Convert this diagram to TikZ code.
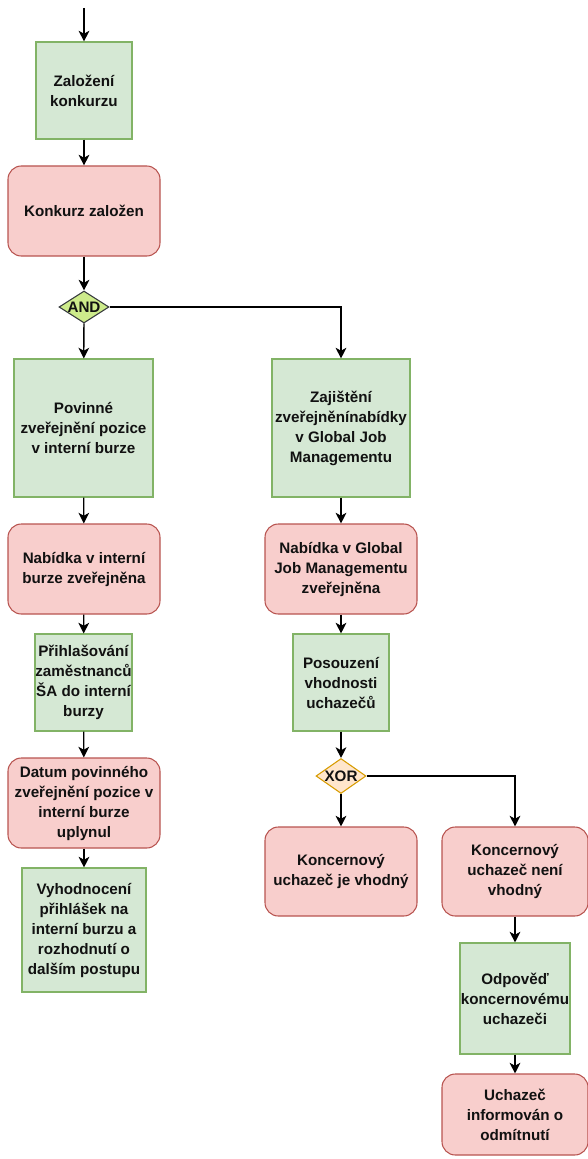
\documentclass[tikz,border=0pt]{standalone}
\usepackage{fontspec}
\setmainfont{Liberation Sans}
\usetikzlibrary{arrows.meta,shapes.geometric}
\definecolor{gfill}{HTML}{D5E8D4}
\definecolor{gline}{HTML}{82B366}
\definecolor{rfill}{HTML}{F8CECC}
\definecolor{rline}{HTML}{B85450}
\definecolor{afill}{HTML}{CDEB8B}
\definecolor{aline}{HTML}{36393D}
\definecolor{xfill}{HTML}{FFE6CC}
\definecolor{xline}{HTML}{D79B00}
\definecolor{txt}{HTML}{111111}
\begin{document}
\begin{tikzpicture}[x=0.75pt,y=-0.75pt,
  every node/.style={text=txt, font=\fontsize{11.4}{15}\selectfont\bfseries, align=center, inner sep=0pt},
  gbox/.style n args={2}{draw=gline, fill=gfill, line width=0.8pt, minimum width=#1*0.75pt, minimum height=#2*0.75pt},
  rbox/.style n args={2}{draw=rline, fill=rfill, line width=0.8pt, rounded corners=10pt, minimum width=#1*0.75pt, minimum height=#2*0.75pt},
  andgate/.style={diamond, draw=aline, fill=afill, line width=0.8pt, minimum width=50*0.75pt, minimum height=32*0.75pt},
  xorgate/.style={diamond, draw=xline, fill=xfill, line width=0.8pt, minimum width=50*0.75pt, minimum height=35*0.75pt},
  conn/.style={draw=black, line width=1pt, -{Stealth[length=8pt,width=8pt,inset=2.2pt]}}
]
\useasboundingbox (0,0) rectangle (588,1159);
\coordinate (start) at (84,8);
% left column
\node[gbox={96}{97}] (z) at (84,90.5) {Založení\\konkurzu};
\node[rbox={152}{90}] (kz) at (84,211) {Konkurz založen};
\node[andgate, label={[text=txt]center:AND}] (and) at (84,307) {};
\node[gbox={139}{138}] (pov) at (83.5,428) {Povinné\\zveřejnění pozice\\v interní burze};
\node[rbox={152}{90}] (nib) at (84,569) {Nabídka v interní\\burze zveřejněna};
\node[gbox={97}{97}] (pri) at (83.5,682.5) {Přihlašování\\zaměstnanců\\ŠA do interní\\burzy};
\node[rbox={152}{90}] (dat) at (84,803) {Datum povinného\\zveřejnění pozice v\\interní burze\\uplynul};
\node[gbox={124}{124}] (vyh) at (84,930) {Vyhodnocení\\přihlášek na\\interní burzu a\\rozhodnutí o\\dalším postupu};
% right column
\node[gbox={138}{138}] (zaj) at (341,428) {Zajištění\\zveřejněnínabídky\\v Global Job\\Managementu};
\node[rbox={152}{90}] (nig) at (341,569) {Nabídka v Global\\Job Managementu\\zveřejněna};
\node[gbox={96}{97}] (pos) at (341,682.5) {Posouzení\\vhodnosti\\uchazečů};
\node[xorgate, label={[text=txt]center:XOR}] (xor) at (341,776) {};
\node[rbox={152}{89}] (kv) at (341,871.5) {Koncernový\\uchazeč je vhodný};
\node[rbox={146}{89}] (knv) at (515,871.5) {Koncernový\\uchazeč není\\vhodný};
\node[gbox={110}{111}] (odp) at (515,998.5) {Odpověď\\koncernovému\\uchazeči};
\node[rbox={146}{81}] (uch) at (515,1114.5) {Uchazeč\\informován o\\odmítnutí};
% connectors
\draw[conn] (start) -- (z);
\draw[conn] (z) -- (kz);
\draw[conn] (kz) -- (and);
\draw[conn] (and) -- (pov);
\draw[conn] (and.east) -| (zaj.north);
\draw[conn] (pov) -- (nib);
\draw[conn] (nib) -- (pri);
\draw[conn] (pri) -- (dat);
\draw[conn] (dat) -- (vyh);
\draw[conn] (zaj) -- (nig);
\draw[conn] (nig) -- (pos);
\draw[conn] (pos) -- (xor);
\draw[conn] (xor) -- (kv);
\draw[conn] (xor.east) -| (knv.north);
\draw[conn] (knv) -- (odp);
\draw[conn] (odp) -- (uch);
\end{tikzpicture}
\end{document}
